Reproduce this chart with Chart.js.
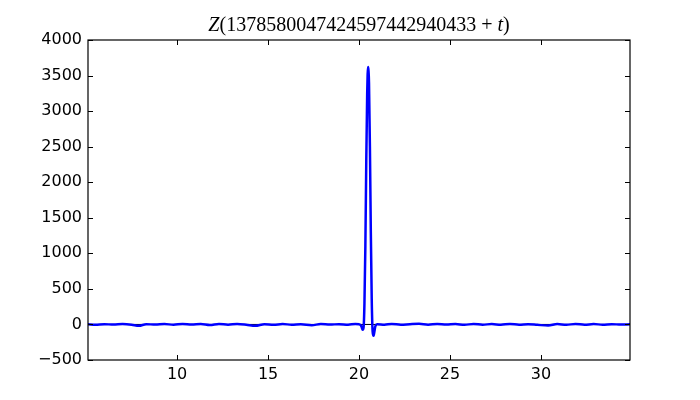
<!DOCTYPE html>
<html>
<head>
<meta charset="utf-8">
<script src="https://cdn.jsdelivr.net/npm/chart.js@4/dist/chart.umd.min.js"></script>
<style>
html,body{margin:0;padding:0;background:#fff;}
#wrap{width:700px;height:400px;position:relative;}
</style>
</head>
<body>
<div id="wrap"><canvas id="c" width="700" height="400"></canvas></div>
<script>
// ---- data ----
const titleNumber = "1378580047424597442940433";
const tValues = [
  5.1, 5.5, 6.0, 6.5, 7.0, 7.5, 7.9, 8.3, 8.8, 9.3, 9.8, 10.3, 10.8, 11.3, 11.8,
  12.3, 12.8, 13.3, 13.8, 14.3, 14.8, 15.3, 15.8, 16.3, 16.8, 17.4, 17.9, 18.4,
  18.9, 19.4, 19.8, 20.0, 20.1, 20.15, 20.2, 20.25, 20.3, 20.35, 20.4, 20.45,
  20.475, 20.5, 20.525, 20.55, 20.6, 20.65, 20.7, 20.75, 20.8, 20.85, 20.9, 21.0,
  21.4, 21.8, 22.3, 22.8, 23.3, 23.8, 24.3, 24.8, 25.3, 25.8, 26.3, 26.8, 27.3,
  27.8, 28.3, 28.8, 29.3, 29.8, 30.4, 30.9, 31.4, 31.9, 32.4, 32.9, 33.4, 33.9,
  34.4, 34.9
];
const zValues = [
  2, -3, 4, -2, 5, -3, -18, 4, -2, 6, -4, 7, -2, 5, -9,
  8, -3, 6, -4, -20, 3, -5, 6, -4, 3, -10, 5, -2,
  4, -3, 6, 2, -12, -40, -75, -45, 300, 1100, 2300, 3250,
  3520, 3620, 3560, 3400, 2500, 1300, 350, -100, -160, -95, -25, 4,
  -4, 8, -3, 4, 9, -3, 6, -2, 5, -4, 6, -3, 5,
  -4, 7, -3, 4, -5, -16, 6, -5, 7, -4, 5, -3, 4,
  -2, 2
];
const xTicks = [10, 15, 20, 25, 30];
const yTicks = [-500, 0, 500, 1000, 1500, 2000, 2500, 3000, 3500, 4000];
const xMin = 5.1, xMax = 34.9, yMin = -500, yMax = 4000;

const points = tValues.map((t, i) => ({x: t, y: zValues[i]}));

const frame = {
  id: 'frame',
  afterDatasetsDraw(chart) {
    const {ctx, chartArea: a, scales} = chart;
    ctx.save();
    ctx.strokeStyle = '#000';
    ctx.lineWidth = 1;
    ctx.beginPath();
    const L = 5;
    xTicks.forEach(v => {
      const px = Math.round(scales.x.getPixelForValue(v)) + 0.5;
      ctx.moveTo(px, a.bottom); ctx.lineTo(px, a.bottom - L);
      ctx.moveTo(px, a.top); ctx.lineTo(px, a.top + L);
    });
    yTicks.forEach(v => {
      const py = Math.round(scales.y.getPixelForValue(v)) + 0.5;
      ctx.moveTo(a.left, py); ctx.lineTo(a.left + L, py);
      ctx.moveTo(a.right, py); ctx.lineTo(a.right - L, py);
    });
    ctx.stroke();
    ctx.lineWidth = 1.2;
    ctx.strokeRect(a.left, a.top, a.right - a.left, a.bottom - a.top);
    // title with math-like styling
    const parts = [
      {t: 'Z', f: 'italic 20px "Liberation Serif"'},
      {t: '(' + titleNumber, f: '20px "Liberation Serif"'},
      {t: ' + ', f: '20px "Liberation Serif"'},
      {t: 't', f: 'italic 20px "Liberation Serif"'},
      {t: ')', f: '20px "Liberation Serif"'}
    ];
    let w = 0;
    parts.forEach(p => { ctx.font = p.f; p.w = ctx.measureText(p.t).width; w += p.w; });
    let x = (a.left + a.right) / 2 - w / 2;
    ctx.fillStyle = '#000';
    ctx.textBaseline = 'alphabetic';
    ctx.textAlign = 'left';
    parts.forEach(p => { ctx.font = p.f; ctx.fillText(p.t, x, 31); x += p.w; });
    ctx.restore();
  }
};

new Chart(document.getElementById('c'), {
  type: 'line',
  data: {
    datasets: [
      {
        data: points,
        borderColor: '#0000ff',
        borderWidth: 2.5,
        borderJoinStyle: 'round',
        borderCapStyle: 'round',
        pointRadius: 0,
        tension: 0.3,
        cubicInterpolationMode: 'monotone',
        fill: false,
        order: 1
      },
      {
        data: [{x: xMin, y: 0}, {x: xMax, y: 0}],
        borderColor: '#000',
        borderWidth: 1,
        pointRadius: 0,
        fill: false,
        order: 2
      }
    ]
  },
  options: {
    responsive: false,
    animation: false,
    devicePixelRatio: 1,
    layout: {padding: {left: 0, right: 70, top: 40, bottom: 0}},
    plugins: {legend: {display: false}, title: {display: false}, tooltip: {enabled: false}},
    scales: {
      x: {
        type: 'linear', min: xMin, max: xMax,
        grid: {display: false, drawTicks: false},
        border: {display: false},
        afterBuildTicks: s => { s.ticks = xTicks.map(v => ({value: v})); },
        afterFit: s => { s.height = 40; },
        ticks: {color: '#000', padding: 5, maxRotation: 0, autoSkip: false,
                font: {family: 'DejaVu Sans', size: 16},
                callback: v => String(v)}
      },
      y: {
        type: 'linear', min: yMin, max: yMax,
        grid: {display: false, drawTicks: false},
        border: {display: false},
        afterBuildTicks: s => { s.ticks = yTicks.map(v => ({value: v})); },
        afterFit: s => { s.width = 88; },
        ticks: {color: '#000', padding: 6, autoSkip: false,
                font: {family: 'DejaVu Sans', size: 16},
                callback: v => String(v).replace('-', '\u2212')}
      }
    }
  },
  plugins: [frame]
});
</script>
</body>
</html>
